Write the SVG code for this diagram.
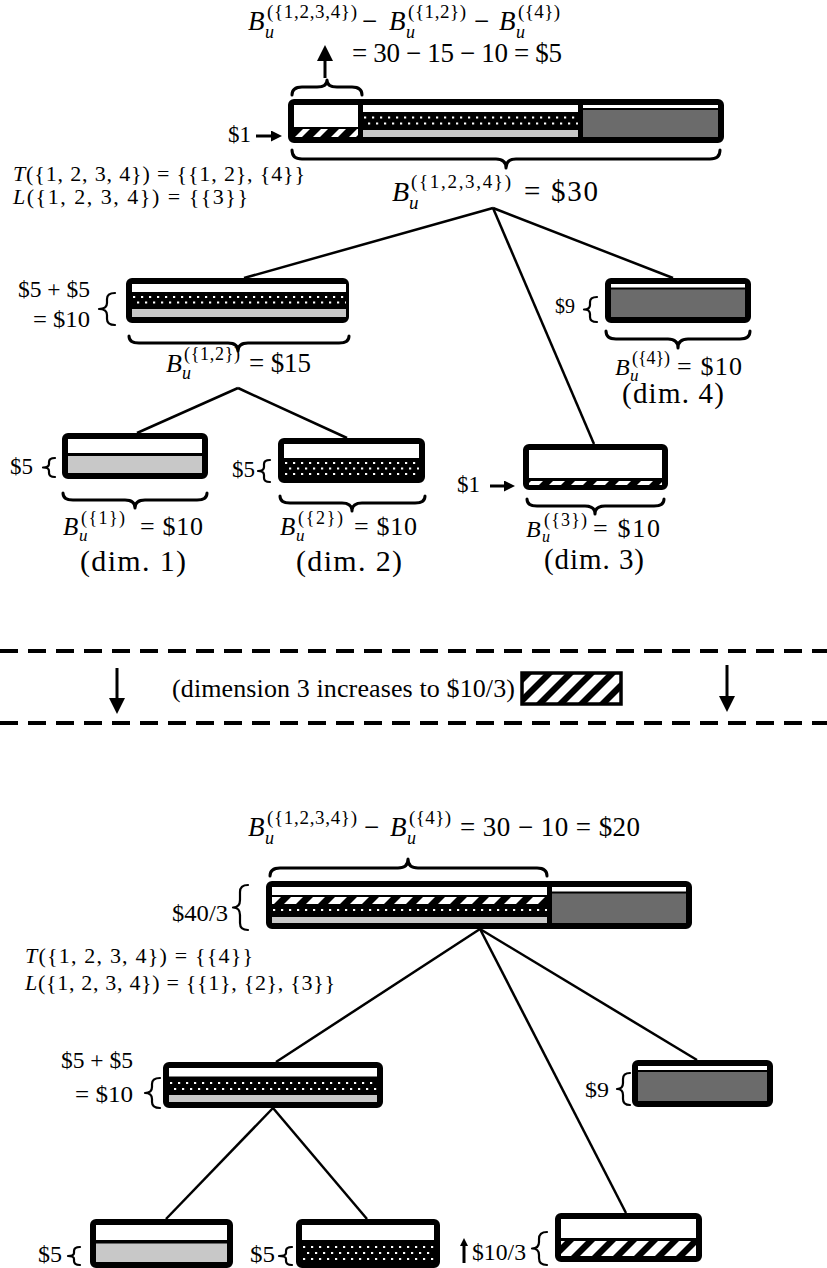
<svg xmlns="http://www.w3.org/2000/svg" width="827" height="1268" viewBox="0 0 827 1268">
<style>
.t{font-family:"Liberation Serif","DejaVu Serif",serif;fill:#000}
.i{font-style:italic}
.frame{fill:#000;stroke:#000;stroke-width:6;stroke-linejoin:round}
.w{fill:#fff}
.g{fill:#c8c8c8}
.d{fill:#6b6b6b}
.dt{stroke:#fff;stroke-width:2.2;stroke-dasharray:2.2 5.8}
.dt2{stroke:#fff;stroke-width:2.2;stroke-dasharray:2.2 5.8;stroke-dashoffset:-4}
.br{fill:none;stroke:#000;stroke-width:3;stroke-linecap:round;stroke-linejoin:round}
.bv{fill:none;stroke:#000;stroke-width:2.2;stroke-linecap:round;stroke-linejoin:round}
.cn line{stroke:#000;stroke-width:2.5}
.ar{stroke:#000;stroke-width:3}
.sep{stroke:#000;stroke-width:4;stroke-dasharray:18 10}
</style>
<defs>
<pattern id="hk" width="18" height="18" patternUnits="userSpaceOnUse" patternTransform="skewX(-45)"><rect width="18" height="18" fill="#000"/><rect width="7" height="18" fill="#fff"/></pattern>
<pattern id="hk2" width="22" height="22" patternUnits="userSpaceOnUse" patternTransform="skewX(-45)"><rect width="22" height="22" fill="#000"/><rect width="12" height="22" fill="#fff"/></pattern>
<pattern id="hw" width="21" height="21" patternUnits="userSpaceOnUse" patternTransform="skewX(-45)"><rect width="21" height="21" fill="#fff"/><rect width="9" height="21" fill="#000"/></pattern>
<marker id="ahS" viewBox="0 0 10 10" refX="0" refY="5" markerWidth="11" markerHeight="11" markerUnits="userSpaceOnUse" orient="auto"><path d="M0,0 L10,5 L0,10 z" fill="#000"/></marker>
<marker id="ahT" viewBox="0 0 10 10" refX="0" refY="5" markerWidth="8" markerHeight="8" markerUnits="userSpaceOnUse" orient="auto"><path d="M0,0 L10,5 L0,10 z" fill="#000"/></marker>
<marker id="ahL" viewBox="0 0 10 10" refX="0" refY="5" markerWidth="16" markerHeight="16" markerUnits="userSpaceOnUse" orient="auto"><path d="M0,0 L10,5 L0,10 z" fill="#000"/></marker>
</defs>
<rect width="827" height="1268" fill="#fff"/>

<!-- top formula -->
<g id="topFormula">
<text class="t i" x="248" y="30" font-size="27">B</text>
<text class="t i" x="265" y="38" font-size="18">u</text>
<text class="t" x="267" y="18" font-size="19" textLength="90">({1,2,3,4})</text>
<text class="t" x="362" y="30" font-size="27">−</text>
<text class="t i" x="389" y="30" font-size="27">B</text>
<text class="t i" x="406" y="38" font-size="18">u</text>
<text class="t" x="408" y="18" font-size="19" textLength="58">({1,2})</text>
<text class="t" x="474" y="30" font-size="27">−</text>
<text class="t i" x="499" y="30" font-size="27">B</text>
<text class="t i" x="516" y="38" font-size="18">u</text>
<text class="t" x="518" y="18" font-size="19" textLength="42">({4})</text>
<text class="t" x="352" y="62" font-size="27" textLength="210">= 30 − 15 − 10 = $5</text>
<line class="ar" x1="325" y1="78" x2="325" y2="61" stroke-width="3.5" marker-end="url(#ahL)"/>
<path class="br" d="M292,95 Q292,87 302,87 L317,87 Q327,87 327,80 Q327,87 337,87 L352,87 Q362,87 362,95"/>
</g>

<!-- top root node -->
<g id="root1">
<rect class="frame" x="291" y="102" width="430" height="38" rx="3"/>
<rect class="w" x="294" y="105" width="64" height="22"/>
<rect x="294" y="129" width="64" height="8" fill="url(#hk)"/>
<rect class="w" x="363" y="105" width="215" height="7"/>
<line class="dt" x1="364" y1="117.5" x2="578" y2="117.5"/>
<line class="dt2" x1="364" y1="123.5" x2="578" y2="123.5"/>
<rect class="g" x="363" y="130" width="215" height="7"/>
<rect class="w" x="583" y="105" width="135" height="3"/>
<rect class="d" x="583" y="110" width="135" height="27"/>
<text class="t" x="228" y="142" font-size="23" textLength="23" lengthAdjust="spacingAndGlyphs">$1</text>
<line class="ar" x1="256" y1="136" x2="271" y2="136" marker-end="url(#ahS)"/>
<path class="br" d="M292,150 Q292,159 302,159 L496,159 Q506,159 506,168 Q506,159 516,159 L710,159 Q720,159 720,150"/>
<text class="t i" x="392" y="201" font-size="28">B</text>
<text class="t i" x="409" y="209" font-size="19">u</text>
<text class="t" x="411" y="188" font-size="19" textLength="100">({1,2,3,4})</text>
<text class="t" x="524" y="201" font-size="29" textLength="74">= $30</text>
<text class="t" x="13" y="181" font-size="22" textLength="292"><tspan class="i">T</tspan>({1, 2, 3, 4}) = {{1, 2}, {4}}</text>
<text class="t" x="13" y="204" font-size="22" textLength="235"><tspan class="i">L</tspan>({1, 2, 3, 4}) = {{3}}</text>
</g>

<!-- top {1,2} -->
<g id="n12a">
<rect class="frame" x="129" y="281" width="217" height="39" rx="3"/>
<rect class="w" x="132" y="284" width="214" height="8"/>
<line class="dt" x1="133" y1="297" x2="346" y2="297"/>
<line class="dt2" x1="133" y1="302.5" x2="346" y2="302.5"/>
<rect class="g" x="132" y="309" width="214" height="8"/>
<text class="t" x="18" y="297" font-size="23" textLength="72" lengthAdjust="spacingAndGlyphs">$5 + $5</text>
<text class="t" x="33" y="327" font-size="23" textLength="57" lengthAdjust="spacingAndGlyphs">= $10</text>
<path class="bv" d="M115,293 Q107,293 107,299 L107,303 Q107,309 99,309 Q107,309 107,315 L107,319 Q107,325 115,325"/>
<path class="br" d="M129,336 Q129,343 139,343 L228,343 Q238,343 238,351 Q238,343 248,343 L339,343 Q349,343 349,336"/>
<text class="t i" x="166" y="372" font-size="26">B</text>
<text class="t i" x="182" y="379" font-size="18">u</text>
<text class="t" x="184" y="360" font-size="18" textLength="56">({1,2})</text>
<text class="t" x="249" y="372" font-size="27" textLength="62">= $15</text>
</g>

<!-- top {4} -->
<g id="n4a">
<rect class="frame" x="608" y="281" width="140" height="39" rx="3"/>
<rect class="w" x="611" y="284" width="134" height="3.5"/>
<rect class="d" x="611" y="289.5" width="134" height="27.5"/>
<text class="t" x="555" y="313" font-size="20" textLength="20" lengthAdjust="spacingAndGlyphs">$9</text>
<path class="bv" d="M597,297 Q590,297 590,302 L590,305 Q590,309.5 584,309.5 Q590,309.5 590,314 L590,317 Q590,322 597,322"/>
<path class="br" d="M606,331 Q606,339 616,339 L668,339 Q678,339 678,348 Q678,339 688,339 L740,339 Q750,339 750,331"/>
<text class="t i" x="615" y="375" font-size="24">B</text>
<text class="t i" x="630" y="381" font-size="17">u</text>
<text class="t" x="632" y="364" font-size="18" textLength="38">({4})</text>
<text class="t" x="677" y="375" font-size="26" textLength="65">= $10</text>
<text class="t" x="673" y="403" font-size="29" text-anchor="middle" textLength="102">(dim. 4)</text>
</g>

<!-- top {1} -->
<g id="n1a">
<rect class="frame" x="65" y="436" width="140" height="40" rx="3"/>
<rect class="w" x="68" y="439" width="134" height="14"/>
<rect class="g" x="68" y="456" width="134" height="17"/>
<text class="t" x="10" y="474" font-size="23" textLength="23" lengthAdjust="spacingAndGlyphs">$5</text>
<path class="bv" d="M55,458 Q49,458 49,462 L49,464 Q49,467.5 43,467.5 Q49,467.5 49,471 L49,473 Q49,477 55,477"/>
<path class="br" d="M63,493 Q63,500 73,500 L125,500 Q135,500 135,508 Q135,500 145,500 L197,500 Q207,500 207,493"/>
<text class="t i" x="63" y="535" font-size="25">B</text>
<text class="t i" x="79" y="541" font-size="17">u</text>
<text class="t" x="81" y="524" font-size="18" textLength="44">({1})</text>
<text class="t" x="140" y="535" font-size="26" textLength="63">= $10</text>
<text class="t" x="133" y="571" font-size="30" text-anchor="middle" textLength="106">(dim. 1)</text>
</g>

<!-- top {2} -->
<g id="n2a">
<rect class="frame" x="281" y="441" width="141" height="39" rx="3"/>
<rect class="w" x="284" y="444" width="135" height="14"/>
<line class="dt" x1="285" y1="463" x2="419" y2="463"/>
<line class="dt2" x1="285" y1="468.5" x2="419" y2="468.5"/>
<line class="dt" x1="285" y1="474" x2="419" y2="474"/>
<text class="t" x="232" y="477" font-size="23" textLength="23" lengthAdjust="spacingAndGlyphs">$5</text>
<path class="bv" d="M270,460 Q264,460 264,464 L264,467 Q264,471 258,471 Q264,471 264,475 L264,478 Q264,482 270,482"/>
<path class="br" d="M280,496 Q280,503 290,503 L342,503 Q352,503 352,511 Q352,503 362,503 L415,503 Q425,503 425,496"/>
<text class="t i" x="280" y="535" font-size="25">B</text>
<text class="t i" x="296" y="541" font-size="17">u</text>
<text class="t" x="298" y="524" font-size="18" textLength="45">({2})</text>
<text class="t" x="354" y="535" font-size="26" textLength="63">= $10</text>
<text class="t" x="349" y="571" font-size="30" text-anchor="middle" textLength="106">(dim. 2)</text>
</g>

<!-- top {3} -->
<g id="n3a">
<rect class="frame" x="526" y="447" width="139" height="40" rx="3"/>
<rect class="w" x="529" y="450" width="133" height="28"/>
<rect x="529" y="481" width="133" height="4" fill="url(#hk2)"/>
<text class="t" x="457" y="492" font-size="23" textLength="23" lengthAdjust="spacingAndGlyphs">$1</text>
<line class="ar" x1="490" y1="486" x2="504" y2="486" marker-end="url(#ahS)"/>
<path class="br" d="M527,499 Q527,506 537,506 L585,506 Q595,506 595,514 Q595,506 605,506 L654,506 Q664,506 664,499"/>
<text class="t i" x="526" y="537" font-size="24">B</text>
<text class="t i" x="542" y="542" font-size="16">u</text>
<text class="t" x="544" y="526" font-size="18" textLength="43">({3})</text>
<text class="t" x="593" y="537" font-size="26" textLength="67">= $10</text>
<text class="t" x="594" y="569" font-size="29" text-anchor="middle" textLength="100">(dim. 3)</text>
</g>

<!-- separator -->
<g id="separator">
<line class="sep" x1="0" y1="651" x2="827" y2="651"/>
<line class="sep" x1="0" y1="723" x2="827" y2="723"/>
<line class="ar" x1="117" y1="668" x2="117" y2="698" marker-end="url(#ahL)"/>
<line class="ar" x1="727" y1="665" x2="727" y2="696" marker-end="url(#ahL)"/>
<text class="t" x="172" y="697" font-size="26" textLength="343">(dimension 3 increases to $10/3)</text>
<rect x="522" y="673" width="99" height="31" fill="url(#hw)" stroke="#000" stroke-width="3.5"/>
</g>

<!-- bottom formula -->
<g id="bottomFormula">
<text class="t i" x="248" y="836" font-size="27">B</text>
<text class="t i" x="265" y="844" font-size="18">u</text>
<text class="t" x="267" y="824" font-size="19" textLength="90">({1,2,3,4})</text>
<text class="t" x="364" y="836" font-size="27">−</text>
<text class="t i" x="390" y="836" font-size="27">B</text>
<text class="t i" x="407" y="844" font-size="18">u</text>
<text class="t" x="409" y="824" font-size="19" textLength="42">({4})</text>
<text class="t" x="460" y="836" font-size="27" textLength="180">= 30 − 10 = $20</text>
<path class="br" d="M270,876 Q270,868 280,868 L398,868 Q408,868 408,859 Q408,868 418,868 L537,868 Q547,868 547,876"/>
</g>

<!-- bottom root -->
<g id="root2">
<rect class="frame" x="269" y="884" width="420" height="42" rx="3"/>
<rect class="w" x="272" y="887" width="275" height="8"/>
<rect x="272" y="897" width="275" height="7" fill="url(#hk2)"/>
<line class="dt" x1="273" y1="910" x2="547" y2="910"/>
<rect class="g" x="272" y="917" width="275" height="6"/>
<rect class="w" x="552" y="887" width="134" height="4.5"/>
<rect class="d" x="552" y="893.5" width="134" height="29.5"/>
<text class="t" x="172" y="921" font-size="23" textLength="56" lengthAdjust="spacingAndGlyphs">$40/3</text>
<path class="bv" d="M248,885 Q240,885 240,892 L240,900 Q240,907.5 233,907.5 Q240,907.5 240,915 L240,923 Q240,930 248,930"/>
<text class="t" x="25" y="963" font-size="22" textLength="228"><tspan class="i">T</tspan>({1, 2, 3, 4}) = {{4}}</text>
<text class="t" x="25" y="990" font-size="22" textLength="310"><tspan class="i">L</tspan>({1, 2, 3, 4}) = {{1}, {2}, {3}}</text>
</g>

<!-- bottom {1,2} -->
<g id="n12b">
<rect class="frame" x="166" y="1065" width="214" height="40" rx="3"/>
<rect class="w" x="169" y="1068" width="208" height="8.5"/>
<line class="dt" x1="170" y1="1083" x2="377" y2="1083"/>
<line class="dt2" x1="170" y1="1089" x2="377" y2="1089"/>
<rect class="g" x="169" y="1095" width="208" height="7"/>
<text class="t" x="61" y="1068" font-size="23" textLength="72" lengthAdjust="spacingAndGlyphs">$5 + $5</text>
<text class="t" x="75" y="1102" font-size="23" textLength="58" lengthAdjust="spacingAndGlyphs">= $10</text>
<path class="bv" d="M160,1078 Q152,1078 152,1084 L152,1087 Q152,1093 145,1093 Q152,1093 152,1099 L152,1102 Q152,1108 160,1108"/>
</g>

<!-- bottom {4} -->
<g id="n4b">
<rect class="frame" x="635" y="1063" width="135" height="41" rx="3"/>
<rect class="w" x="638" y="1066" width="129" height="4"/>
<rect class="d" x="638" y="1072" width="129" height="29"/>
<text class="t" x="585" y="1097" font-size="22" textLength="24" lengthAdjust="spacingAndGlyphs">$9</text>
<path class="bv" d="M630,1073 Q623,1073 623,1079 L623,1083 Q623,1089 617,1089 Q623,1089 623,1095 L623,1099 Q623,1105 630,1105"/>
</g>

<!-- bottom {1} -->
<g id="n1b">
<rect class="frame" x="93" y="1222" width="137" height="43" rx="3"/>
<rect class="w" x="96" y="1225" width="131" height="15"/>
<rect class="g" x="96" y="1243.5" width="131" height="18.5"/>
<text class="t" x="38" y="1262" font-size="23" textLength="24" lengthAdjust="spacingAndGlyphs">$5</text>
<path class="bv" d="M80,1247 Q74,1247 74,1251 L74,1253 Q74,1256 68,1256 Q74,1256 74,1259 L74,1261 Q74,1265 80,1265"/>
</g>

<!-- bottom {2} -->
<g id="n2b">
<rect class="frame" x="299" y="1222" width="138" height="43" rx="3"/>
<rect class="w" x="302" y="1225" width="132" height="15"/>
<line class="dt" x1="303" y1="1247" x2="434" y2="1247"/>
<line class="dt2" x1="303" y1="1253" x2="434" y2="1253"/>
<line class="dt" x1="303" y1="1259" x2="434" y2="1259"/>
<text class="t" x="250" y="1262" font-size="23" textLength="25" lengthAdjust="spacingAndGlyphs">$5</text>
<path class="bv" d="M292,1247 Q286,1247 286,1251 L286,1253 Q286,1256 279,1256 Q286,1256 286,1259 L286,1261 Q286,1265 292,1265"/>
</g>

<!-- bottom {3} -->
<g id="n3b">
<rect class="frame" x="558" y="1216" width="141" height="43" rx="3"/>
<rect class="w" x="561" y="1219" width="135" height="19"/>
<rect x="561" y="1241" width="135" height="15" fill="url(#hw)"/>
<line class="ar" x1="464" y1="1263" x2="464" y2="1246" stroke-width="2.2" marker-end="url(#ahT)"/>
<text class="t" x="472" y="1260" font-size="23" textLength="54" lengthAdjust="spacingAndGlyphs">$10/3</text>
<path class="bv" d="M547,1232 Q539,1232 539,1239 L539,1242 Q539,1248.5 532,1248.5 Q539,1248.5 539,1255 L539,1258 Q539,1265 547,1265"/>
</g>

<!-- connectors -->
<g id="connectors" class="cn">
<line x1="493" y1="208" x2="244" y2="278"/>
<line x1="493" y1="208" x2="673" y2="278"/>
<line x1="493" y1="208" x2="594" y2="444"/>
<line x1="238" y1="388" x2="137" y2="433"/>
<line x1="238" y1="388" x2="347" y2="438"/>
<line x1="480" y1="929" x2="276" y2="1062"/>
<line x1="480" y1="929" x2="626" y2="1213"/>
<line x1="480" y1="929" x2="697" y2="1060"/>
<line x1="273" y1="1108" x2="166" y2="1219"/>
<line x1="273" y1="1108" x2="367" y2="1219"/>
</g>
</svg>
